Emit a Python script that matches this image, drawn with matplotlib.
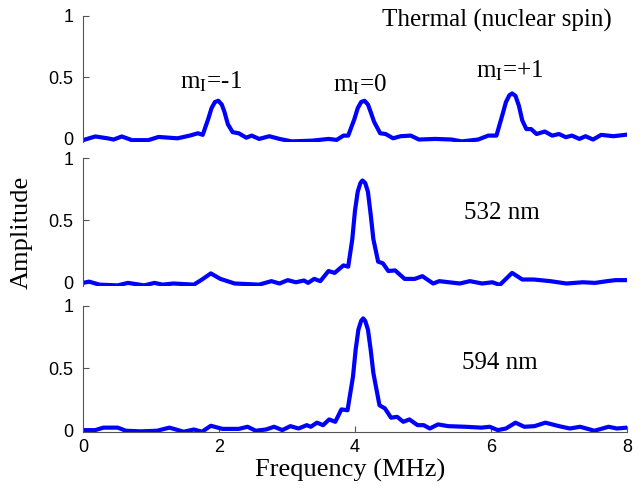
import matplotlib.pyplot as plt

plt.rcParams["mathtext.fontset"] = "stix"

# Thermal (nuclear spin) spectrum
thermal_freq = [0.00, 0.18, 0.36, 0.45, 0.57, 0.72, 0.96, 1.11, 1.39, 1.57,
                1.69, 1.76, 1.84, 1.89, 1.94, 1.99, 2.04, 2.08, 2.13, 2.20,
                2.29, 2.40, 2.48, 2.59, 2.74, 2.89, 3.07, 3.37, 3.61, 3.73,
                3.83, 3.90, 3.99, 4.04, 4.09, 4.14, 4.19, 4.23, 4.28, 4.37,
                4.45, 4.56, 4.67, 4.82, 4.94, 5.18, 5.42, 5.57, 5.81, 5.96,
                6.08, 6.17, 6.22, 6.27, 6.31, 6.36, 6.41, 6.46, 6.52, 6.59,
                6.67, 6.79, 6.90, 7.00, 7.10, 7.19, 7.30, 7.39, 7.50, 7.62,
                7.80, 8.00]
thermal_amp = [-0.01, 0.02, 0.005, -0.005, 0.02, -0.01, -0.01, 0.016, 0.005, 0.027,
               0.046, 0.033, 0.16, 0.25, 0.30, 0.31, 0.28, 0.22, 0.12, 0.055,
               0.046, 0.01, 0.027, 0.0, 0.022, 0.0, -0.02, -0.014, 0.0, -0.008,
               0.027, 0.027, 0.16, 0.25, 0.30, 0.31, 0.28, 0.22, 0.14, 0.046,
               0.04, 0.005, 0.022, 0.027, -0.005, 0.0, -0.005, -0.02, -0.005, 0.027,
               0.027, 0.20, 0.30, 0.355, 0.37, 0.35, 0.27, 0.15, 0.08, 0.08,
               0.04, 0.06, 0.027, 0.04, 0.014, 0.027, 0.0, 0.022, -0.005, 0.033,
               0.022, 0.035]

# 532 nm spectrum
green_freq = [0.00, 0.09, 0.24, 0.51, 0.66, 0.90, 1.05, 1.17, 1.33, 1.63,
              1.75, 1.88, 2.02, 2.23, 2.59, 2.77, 2.89, 3.01, 3.13, 3.25,
              3.31, 3.40, 3.49, 3.61, 3.70, 3.83, 3.90, 3.96, 4.00, 4.04,
              4.08, 4.11, 4.15, 4.19, 4.23, 4.27, 4.34, 4.41, 4.49, 4.59,
              4.73, 4.88, 4.99, 5.15, 5.24, 5.54, 5.69, 5.87, 6.02, 6.13,
              6.31, 6.46, 6.63, 6.87, 7.11, 7.35, 7.53, 7.71, 7.83, 8.00]
green_amp = [0.0, 0.01, -0.014, -0.02, 0.0, -0.02, 0.0, -0.014, -0.005, -0.014,
             0.027, 0.076, 0.032, -0.005, -0.014, 0.014, -0.005, 0.022, 0.005, 0.019,
             0.0, 0.032, 0.014, 0.095, 0.08, 0.14, 0.13, 0.35, 0.58, 0.73,
             0.80, 0.82, 0.80, 0.73, 0.55, 0.35, 0.17, 0.157, 0.095, 0.10,
             0.032, 0.032, 0.054, -0.005, 0.014, -0.005, 0.014, -0.005, 0.005, -0.016,
             0.08, 0.027, 0.027, 0.014, -0.005, 0.005, 0.0, 0.014, 0.022, 0.022]

# 594 nm spectrum
orange_freq = [0.00, 0.18, 0.30, 0.51, 0.63, 0.85, 1.09, 1.27, 1.48, 1.63,
               1.75, 1.88, 2.05, 2.29, 2.42, 2.54, 2.69, 2.81, 2.93, 3.05,
               3.17, 3.29, 3.35, 3.44, 3.53, 3.62, 3.71, 3.80, 3.89, 3.97,
               4.01, 4.05, 4.09, 4.12, 4.15, 4.19, 4.23, 4.27, 4.36, 4.44,
               4.53, 4.62, 4.71, 4.80, 4.92, 5.01, 5.10, 5.22, 5.37, 5.62,
               5.86, 5.98, 6.10, 6.22, 6.36, 6.49, 6.64, 6.80, 7.00, 7.16,
               7.31, 7.52, 7.73, 7.85, 8.00]
orange_amp = [0.0, 0.0, 0.02, 0.02, -0.005, -0.01, -0.005, 0.02, -0.013, 0.005,
              -0.013, 0.035, 0.01, 0.01, 0.027, -0.005, 0.005, 0.027, 0.0, 0.032,
              0.013, 0.04, 0.027, 0.06, 0.04, 0.086, 0.067, 0.167, 0.16, 0.43,
              0.65, 0.81, 0.88, 0.90, 0.88, 0.81, 0.65, 0.46, 0.20, 0.175,
              0.10, 0.107, 0.067, 0.086, 0.04, 0.04, 0.013, 0.046, 0.032, 0.027,
              0.02, 0.027, 0.0, 0.013, 0.06, 0.027, 0.032, 0.06, 0.032, 0.013,
              0.027, -0.005, 0.027, 0.013, 0.02]

peak_labels = ["m$_\\mathrm{I}$=-1", "m$_\\mathrm{I}$=0", "m$_\\mathrm{I}$=+1"]
peak_label_pos = [(1.88, 0.46), (4.07, 0.44), (6.28, 0.55)]

panels = [
    (thermal_freq, thermal_amp, "Thermal (nuclear spin)"),
    (green_freq, green_amp, "532 nm"),
    (orange_freq, orange_amp, "594 nm"),
]

serif = "Liberation Serif"
sans = "Liberation Sans"

fig = plt.figure(figsize=(6.44, 4.91), dpi=100)
rects = [
    [0.1289, 0.7108, 0.8447, 0.2568],
    [0.1289, 0.4175, 0.8447, 0.2607],
    [0.1289, 0.1202, 0.8447, 0.2566],
]
ylims = [(-0.025, 1.0), (-0.025, 1.0), (-0.015, 1.0)]

axes = []
for i, (freq, amp, label) in enumerate(panels):
    ax = fig.add_axes(rects[i])
    ax.plot(freq, amp, color="#0000ff", linewidth=3, solid_joinstyle="round")
    ax.set_xlim(0, 8)
    ax.set_ylim(*ylims[i])
    ax.set_yticks([0, 0.5, 1])
    ax.set_yticklabels(["0", "0.5", "1"])
    for side in ["top", "right"]:
        ax.spines[side].set_visible(False)
    ax.spines["left"].set_color("#555555")
    ax.spines["bottom"].set_color("#555555")
    ax.tick_params(axis="y", direction="in", length=4, width=0.8,
                   color="#555555", labelsize=13, pad=7)
    ax.tick_params(axis="x", direction="in", length=4, width=0.8,
                   color="#555555", labelsize=13, pad=5)
    for t in ax.get_yticklabels() + ax.get_xticklabels():
        t.set_fontfamily(sans)
    if i < 2:
        ax.spines["bottom"].set_visible(False)
        ax.set_xticks([])
    else:
        ax.set_xticks([0, 2, 4, 6, 8])
        ax.set_xticklabels(["0", "2", "4", "6", "8"], fontfamily=sans)
    axes.append(ax)

axes[0].text(7.78, 0.965, panels[0][2], ha="right", va="center",
             fontsize=18, fontfamily=serif)
axes[1].text(6.16, 0.56, panels[1][2], ha="center", va="center",
             fontsize=18, fontfamily=serif)
axes[2].text(6.13, 0.54, panels[2][2], ha="center", va="center",
             fontsize=18, fontfamily=serif)
for text, (x, y) in zip(peak_labels, peak_label_pos):
    axes[0].text(x, y, text, ha="center", va="center", fontsize=18,
                 fontfamily=serif)

fig.text(0.034, 1 - 232 / 491, "Amplitude", rotation=90, ha="center",
         va="center", fontsize=19, fontfamily=serif)
fig.text(0.543, 0.042, "Frequency (MHz)", ha="center", va="center",
         fontsize=19, fontfamily=serif)

fig.savefig("out.png", dpi=100)
